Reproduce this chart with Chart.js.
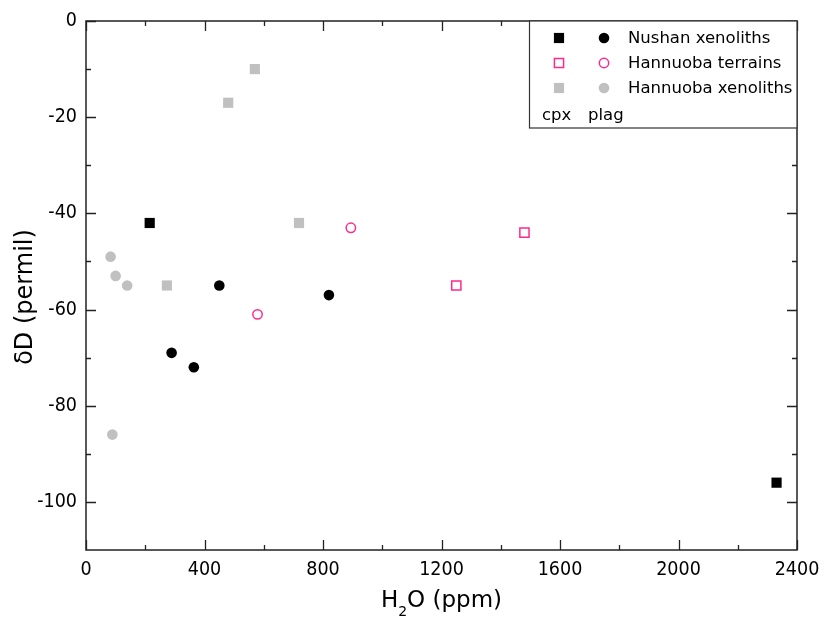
<!DOCTYPE html>
<html>
<head>
<meta charset="utf-8">
<script src="https://cdn.jsdelivr.net/npm/chart.js@4/dist/chart.umd.min.js"></script>
<style>
  html, body { margin: 0; padding: 0; background: #fff; }
  #wrap { width: 824px; height: 619px; }
</style>
</head>
<body>
<div id="wrap"><canvas id="chart"></canvas></div>
<script>
// tick labels
const xTicks = [0, 400, 800, 1200, 1600, 2000, 2400];
const yTicks = [0, -20, -40, -60, -80, -100];

// H2O (ppm) / dD (permil)
const nushanCpxX = [215, 2331];
const nushanCpxY = [-42, -96];
const nushanPlagX = [450, 289, 364, 820];
const nushanPlagY = [-55, -69, -72, -57];
const terrainCpxX = [1250, 1480];
const terrainCpxY = [-55, -44];
const terrainPlagX = [579, 894];
const terrainPlagY = [-61, -43];
const xenoCpxX = [480, 570, 719, 273];
const xenoCpxY = [-17, -10, -42, -55];
const xenoPlagX = [83, 100, 139, 89];
const xenoPlagY = [-49, -53, -55, -86];

const PINK = '#ff2a8a';
const GRAY = '#c0c0c0';
const TICK_FONT = '"DejaVu Sans Condensed", "DejaVu Sans", sans-serif';
const TEXT_FONT = '"DejaVu Sans", sans-serif';

function pts(xs, ys) {
  return xs.map((x, i) => ({ x: x, y: ys[i] }));
}

const series = [
  { label: 'Nushan cpx', data: pts(nushanCpxX, nushanCpxY), pointStyle: 'rect', pointRadius: 7.2,
    backgroundColor: '#000', borderColor: '#000', borderWidth: 0 },
  { label: 'Nushan plag', data: pts(nushanPlagX, nushanPlagY), pointStyle: 'circle', pointRadius: 5.3,
    backgroundColor: '#000', borderColor: '#000', borderWidth: 0 },
  { label: 'Hannuoba terrains cpx', data: pts(terrainCpxX, terrainCpxY), pointStyle: 'rect', pointRadius: 6.5,
    backgroundColor: 'rgba(0,0,0,0)', borderColor: PINK, borderWidth: 1.5 },
  { label: 'Hannuoba terrains plag', data: pts(terrainPlagX, terrainPlagY), pointStyle: 'circle', pointRadius: 4.7,
    backgroundColor: 'rgba(0,0,0,0)', borderColor: PINK, borderWidth: 1.5 },
  { label: 'Hannuoba xenoliths cpx', data: pts(xenoCpxX, xenoCpxY), pointStyle: 'rect', pointRadius: 7.2,
    backgroundColor: GRAY, borderColor: GRAY, borderWidth: 0 },
  { label: 'Hannuoba xenoliths plag', data: pts(xenoPlagX, xenoPlagY), pointStyle: 'circle', pointRadius: 5.3,
    backgroundColor: GRAY, borderColor: GRAY, borderWidth: 0 }
];

// legend rows: [cpx dataset, plag dataset, text]
const legendRows = [
  [0, 1, 'Nushan xenoliths'],
  [2, 3, 'Hannuoba terrains'],
  [4, 5, 'Hannuoba xenoliths']
];

function drawMarker(ctx, ds, x, y) {
  ctx.save();
  ctx.fillStyle = ds.backgroundColor;
  ctx.strokeStyle = ds.borderColor;
  ctx.lineWidth = ds.borderWidth;
  Chart.helpers.drawPoint(ctx, {
    pointStyle: ds.pointStyle, radius: ds.pointRadius, borderWidth: ds.borderWidth, rotation: 0
  }, x, y);
  ctx.restore();
}

const framePlugin = {
  id: 'frame',
  afterDraw(chart) {
    const ctx = chart.ctx;
    const a = chart.chartArea;
    const xs = chart.scales.x, ys = chart.scales.y;
    ctx.save();
    ctx.strokeStyle = '#222';
    ctx.lineWidth = 1.5;
    ctx.strokeRect(a.left, a.top, a.right - a.left, a.bottom - a.top);

    // inward ticks on all four sides
    ctx.lineWidth = 1.3;
    ctx.beginPath();
    for (let v = xs.min; v <= xs.max; v += 200) {
      const px = Math.round(xs.getPixelForValue(v)) + 0.5;
      const len = v % 400 === 0 ? 10 : 5;
      ctx.moveTo(px, a.bottom); ctx.lineTo(px, a.bottom - len);
      ctx.moveTo(px, a.top); ctx.lineTo(px, a.top + len);
    }
    for (let v = -100; v <= ys.max; v += 10) {
      const py = Math.round(ys.getPixelForValue(v)) + 0.5;
      const len = v % 20 === 0 ? 10 : 5;
      ctx.moveTo(a.left, py); ctx.lineTo(a.left + len, py);
      ctx.moveTo(a.right, py); ctx.lineTo(a.right - len, py);
    }
    ctx.stroke();

    // legend box
    const lx = 529, ly = a.top, lr = a.right, lb = 128;
    ctx.fillStyle = '#fff';
    ctx.fillRect(lx, ly, lr - lx, lb - ly);
    ctx.lineWidth = 1.2;
    ctx.strokeStyle = '#333';
    ctx.strokeRect(lx + 0.5, ly, lr - lx - 0.5, lb - ly);
    const ds = chart.data.datasets;
    const rowY = [38, 63, 88];
    ctx.font = '16.5px ' + TEXT_FONT;
    ctx.fillStyle = '#000';
    ctx.textBaseline = 'middle';
    legendRows.forEach((r, i) => {
      drawMarker(ctx, ds[r[0]], 559, rowY[i]);
      drawMarker(ctx, ds[r[1]], 604, rowY[i]);
      ctx.fillStyle = '#000';
      ctx.textAlign = 'left';
      ctx.fillText(r[2], 628, rowY[i] + 1);
    });
    ctx.fillText('cpx', 542, 116);
    ctx.fillText('plag', 588, 116);

    // x title with subscript
    ctx.textBaseline = 'alphabetic';
    const big = '23px ' + TEXT_FONT, small = '14px ' + TEXT_FONT;
    ctx.font = big; const wH = ctx.measureText('H').width;
    const wRest = ctx.measureText('O (ppm)').width;
    ctx.font = small; const w2 = ctx.measureText('2').width;
    let tx = (a.left + a.right) / 2 - (wH + w2 + wRest) / 2;
    const base = 607;
    ctx.font = big; ctx.fillText('H', tx, base); tx += wH;
    ctx.font = small; ctx.fillText('2', tx, base + 9); tx += w2;
    ctx.font = big; ctx.fillText('O (ppm)', tx, base);

    // y title
    ctx.translate(32, 297);
    ctx.rotate(-Math.PI / 2);
    ctx.textAlign = 'center';
    ctx.font = '24px ' + TEXT_FONT;
    ctx.fillText('\u03b4D (permil)', 0, 0);
    ctx.restore();
  }
};

new Chart(document.getElementById('chart'), {
  type: 'scatter',
  data: { datasets: series },
  options: {
    responsive: true,
    maintainAspectRatio: false,
    animation: false,
    layout: { padding: { top: 21, right: 27, left: 0, bottom: 0 } },
    plugins: { legend: { display: false }, tooltip: { enabled: false } },
    scales: {
      x: {
        type: 'linear', min: 0, max: 2400,
        afterBuildTicks: s => { s.ticks = xTicks.map(v => ({ value: v })); },
        afterFit: s => { s.height = 69; s.paddingLeft = 0; s.paddingRight = 0; },
        grid: { display: false, drawTicks: false },
        border: { display: false },
        ticks: { color: '#000', padding: 8, maxRotation: 0, callback: v => String(v),
                 font: { size: 19.5, family: TICK_FONT } }
      },
      y: {
        type: 'linear', min: -110, max: 0,
        afterBuildTicks: s => { s.ticks = yTicks.map(v => ({ value: v })); },
        afterFit: s => { s.width = 86; s.paddingTop = 0; s.paddingBottom = 0; },
        grid: { display: false, drawTicks: false },
        border: { display: false },
        ticks: { color: '#000', padding: 9, callback: v => String(v),
                 font: { size: 19.5, family: TICK_FONT } }
      }
    }
  },
  plugins: [framePlugin]
});
</script>
</body>
</html>
